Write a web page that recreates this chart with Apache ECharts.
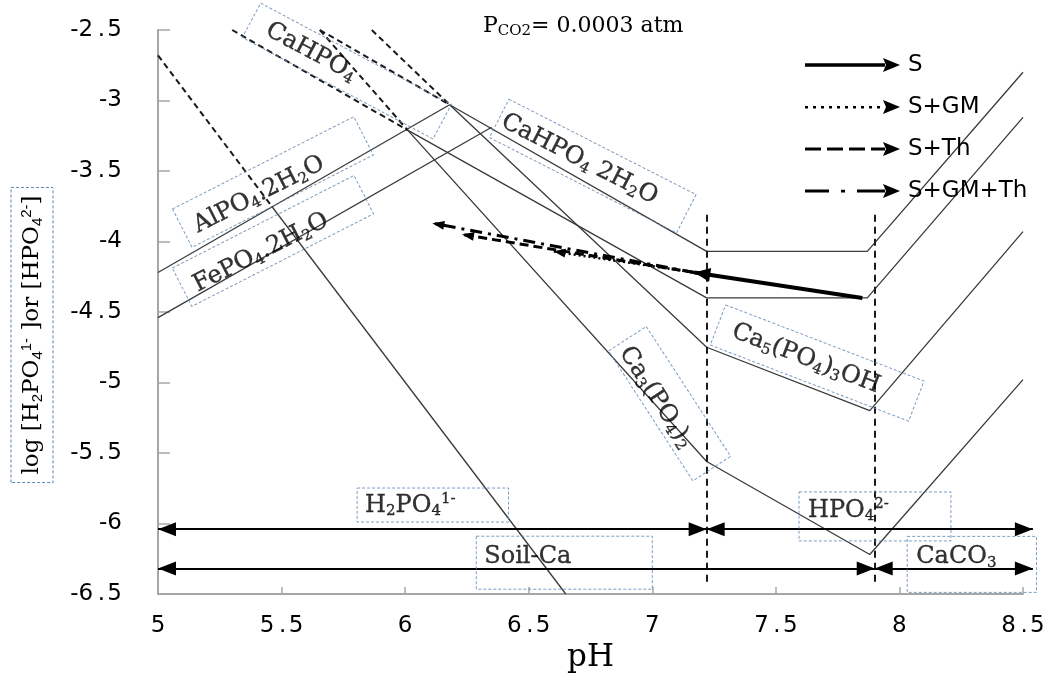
<!DOCTYPE html>
<html><head><meta charset="utf-8">
<script src="https://cdn.jsdelivr.net/npm/echarts@6/dist/echarts.min.js"></script>
<style>html,body{margin:0;padding:0;background:#fff}#c{width:1049px;height:687px}</style>
</head><body><div id="c"></div>
<script>
// ---------------- data (pH, log activity) ----------------
const alpo4      = [[5,-4.22],[6.18,-3.03]];
const fepo4      = [[5,-4.54],[6.35,-3.19]];
const dcpd       = [[6.18,-3.03],[7.22,-4.07],[7.87,-4.07],[8.5,-2.80]];
const dcp        = [[6.01,-3.21],[7.22,-4.40],[7.87,-4.40],[8.5,-3.12]];
const ca5        = [[6.18,-3.03],[7.22,-4.75],[7.88,-5.20],[8.5,-3.93]];
const ca3        = [[6.01,-3.21],[7.22,-5.56],[7.88,-6.22],[8.5,-4.98]];
const steepSolid = [[5.46,-3.75],[6.65,-6.5]];
const steepDash  = [[5,-2.68],[5.46,-3.75]];
const dcpDash    = [[5.30,-2.5],[6.01,-3.21]];
const dcpdDash   = [[5.655,-2.5],[6.18,-3.03]];
const ca3Dash    = [[5.655,-2.5],[6.01,-3.21]];
const ca5Dash    = [[5.865,-2.5],[6.18,-3.03]];
const boundaryPH = [7.22, 7.9];
const boundaryY  = [-3.81, -6.44];
const rowSpecies = -6.04;
const rowSolid   = -6.32;
const rowEnds    = [5, 8.54];
const arrowS      = [[7.85,-4.40],[7.17,-4.22]];
const arrowSGM    = [[7.17,-4.22],[6.60,-4.07]];
const arrowSTh    = [[7.17,-4.22],[6.23,-3.95]];
const arrowSGMTh  = [[7.17,-4.22],[6.11,-3.87]];
const legendNames = ['S','S+GM','S+Th','S+GM+Th'];

// ---------------- annotation placement ----------------
const labelDefs = [
  {t:'CaHPO{s|4}',                 at:[5.764,-2.791], rot:-28, pad:[6,99,6,18]},
  {t:'CaHPO{s|4} 2H{s|2}O',        at:[6.759,-3.465], rot:-27, pad:[8,34,8,4]},
  {t:'AlPO{s|4}.2H{s|2}O',         at:[5.465,-3.578], rot:27,  pad:[13,48,3,12]},
  {t:'FePO{s|4}.2H{s|2}O',         at:[5.465,-3.996], rot:27,  pad:[13,44,3,12]},
  {t:'Ca{s|3}(PO{s|4}){s|2}',      at:[7.070,-5.150], rot:-57, pad:[17,32,1,7]},
  {t:'Ca{s|5}(PO{s|4}){s|3}OH',    at:[7.667,-4.862], rot:-21, pad:[8,40,8,16]},
  {t:'H{s|2}PO{s|4}{p|1-}',        at:[6.112,-5.869], rot:0,   pad:[4,53,3,8]},
  {t:'Soil-Ca',                    at:[6.644,-6.278], rot:0,   pad:[7,81,19,8]},
  {t:'HPO{s|4}{p|2-}',             at:[7.901,-5.95],  rot:0,   pad:[5,62,17,9]},
  {t:'CaCO{s|3}',                  at:[8.293,-6.29],  rot:0,   pad:[7,40,22,9]}
];

const BOX = '#5b84b1';
const RICH = {
  s:{fontSize:15, lineHeight:15, verticalAlign:'bottom', textBorderColor:'#000', textBorderWidth:0.35},
  p:{fontSize:15, lineHeight:15, verticalAlign:'top', textBorderColor:'#000', textBorderWidth:0.35}
};

function solid(d){return {type:'line',data:d,symbol:'none',silent:true,lineStyle:{color:'#3a3a3a',width:1.3},z:3};}
function dashed(d){return {type:'line',data:d,symbol:'none',silent:true,lineStyle:{color:'#1a1a1a',width:2,type:[6,4]},z:3};}

// arrowhead symbols: triangle tip at the symbol centre
function head(len, wid, box){
  const c = box/2;
  return 'path://M0,0L0.01,0Z M'+box+','+box+'L'+(box-0.01)+','+box+'Z M'+c+','+c+'L'+(c+wid/2)+','+(c+len)+'L'+(c-wid/2)+','+(c+len)+'Z';
}
const bigHead = head(18,14,36);
const sHead = head(16,14,32);
const smallHead = head(12,9,24);

function arrowSeries(name, seg, style, hd, sz){
  return {type:'lines', name, coordinateSystem:'cartesian2d', clip:false, silent:true, z:6,
    symbol:['none', hd], symbolSize:sz,
    lineStyle:Object.assign({color:'#000', opacity:1, curveness:0}, style),
    itemStyle:{color:'#000'},
    data:[{coords:seg}]};
}

// legend icons (width 95, height 14)
function legendIcon(segs){
  let p = 'path://';
  segs.forEach(s=>{ p += 'M'+s[0]+','+s[1]+'H'+(s[0]+s[2])+'V'+(s[1]+s[3])+'H'+s[0]+'Z '; });
  p += 'M78,0L95,7L78,14L81,7Z';
  return p;
}
const dots=[]; for(let x=0;x<76;x+=8) dots.push([x,6,3,2.5]);
const icons = {
  'S': legendIcon([[0,5.3,80,3.4]]),
  'S+GM': legendIcon(dots),
  'S+Th': legendIcon([[0,5.5,16,3],[22,5.5,16,3],[44,5.5,16,3],[66,5.5,14,3]]),
  'S+GM+Th': legendIcon([[0,5.5,24,3],[36,5.8,4,2.6],[52,5.5,28,3]])
};

function tickFmt(v){ return String(v).replace('.', '\u2009.\u200a'); }

const series = [
  solid(alpo4), solid(fepo4), solid(dcpd), solid(dcp), solid(ca5), solid(ca3), solid(steepSolid),
  dashed(steepDash), dashed(dcpDash), dashed(dcpdDash), dashed(ca3Dash), dashed(ca5Dash),
  {type:'lines', coordinateSystem:'cartesian2d', silent:true, clip:false, z:4, symbol:'none',
   lineStyle:{color:'#1a1a1a', width:2, type:[7,5], opacity:1},
   data: boundaryPH.map(x=>({coords:[[x,boundaryY[0]],[x,boundaryY[1]]]}))},
  {type:'lines', coordinateSystem:'cartesian2d', silent:true, clip:false, z:4,
   symbol:[bigHead,bigHead], symbolSize:36, itemStyle:{color:'#000'},
   lineStyle:{color:'#000', width:2, opacity:1},
   data:[
     {coords:[[rowEnds[0],rowSpecies],[boundaryPH[0],rowSpecies]]},
     {coords:[[boundaryPH[0],rowSpecies],[rowEnds[1],rowSpecies]]},
     {coords:[[rowEnds[0],rowSolid],[boundaryPH[1],rowSolid]]},
     {coords:[[boundaryPH[1],rowSolid],[rowEnds[1],rowSolid]]}
   ]},
  arrowSeries('S+GM', arrowSGM, {width:2.5, type:[2,3]}, smallHead, 24),
  arrowSeries('S+Th', arrowSTh, {width:3, type:[9,5]}, smallHead, 24),
  arrowSeries('S+GM+Th', arrowSGMTh, {width:3, type:[12,6,3,6]}, smallHead, 24),
  arrowSeries('S', arrowS, {width:4}, sHead, 32),
  {type:'scatter', silent:true, clip:false, symbolSize:1, itemStyle:{color:'rgba(0,0,0,0)'}, z:8,
   label:{show:true, position:'inside', align:'center', verticalAlign:'middle',
     fontFamily:'DejaVu Serif', fontSize:24, lineHeight:27, color:'#000',
     textBorderColor:'#000', textBorderWidth:0.35,
     borderColor:BOX, borderWidth:1, borderType:[3,2], rich:RICH},
   data: labelDefs.map(d=>({value:d.at, label:{rotate:d.rot, padding:d.pad, formatter:d.t}}))}
];

const chart = echarts.init(document.getElementById('c'));
chart.setOption({
  animation:false,
  backgroundColor:'#fff',
  grid:{left:158, right:26, top:30, bottom:93, containLabel:false},
  title:{text:'P{s|CO2}= 0.0003 atm', left:478, top:8,
    textStyle:{fontFamily:'DejaVu Serif', fontSize:22, lineHeight:26, fontWeight:'normal', color:'#000',
      rich:{s:{fontSize:15, lineHeight:15, verticalAlign:'bottom'}}}},
  legend:{orient:'vertical', left:800, top:48, itemWidth:95, itemHeight:14, itemGap:18, selectedMode:false,
    textStyle:{fontFamily:'DejaVu Sans', fontSize:23, lineHeight:24, color:'#000', padding:[0,0,0,3]},
    data: legendNames.map(n=>({name:n, icon:icons[n], itemStyle:{color:'#000', borderWidth:0}}))},
  xAxis:{type:'value', min:5, max:8.5, interval:0.5,
    axisLine:{show:true, onZero:false, lineStyle:{color:'#a6a6a6', width:2}},
    axisTick:{show:true, inside:true, length:7, lineStyle:{color:'#a6a6a6', width:1.5}},
    axisLabel:{fontFamily:'DejaVu Sans', fontSize:23, color:'#000', margin:21, formatter:tickFmt},
    splitLine:{show:false},
    name:'pH', nameLocation:'middle', nameGap:48,
    nameTextStyle:{fontFamily:'DejaVu Serif', fontSize:31, color:'#000'}},
  yAxis:{type:'value', min:-6.5, max:-2.5, interval:0.5,
    axisLine:{show:true, onZero:false, lineStyle:{color:'#a6a6a6', width:2}},
    axisTick:{show:true, inside:true, length:12, lineStyle:{color:'#a6a6a6', width:1.5}},
    axisLabel:{fontFamily:'DejaVu Sans', fontSize:23, color:'#000', margin:36, formatter:tickFmt},
    splitLine:{show:false}},
  graphic:[{type:'text', x:32, y:335, rotation:Math.PI/2, silent:true,
    style:{text:'log [H{s|2}PO{s|4}{p|1-} ]or [HPO{s|4}{p|2-}]', fontFamily:'DejaVu Serif', fontSize:23, lineHeight:26,
      fill:'#000', align:'center', verticalAlign:'middle', padding:[8,8,8,8],
      borderColor:BOX, borderWidth:1, borderDash:[3,2],
      rich:{s:{fontSize:15, lineHeight:15, verticalAlign:'bottom'}, p:{fontSize:15, lineHeight:15, verticalAlign:'top'}}}}],
  series
});
</script></body></html>
